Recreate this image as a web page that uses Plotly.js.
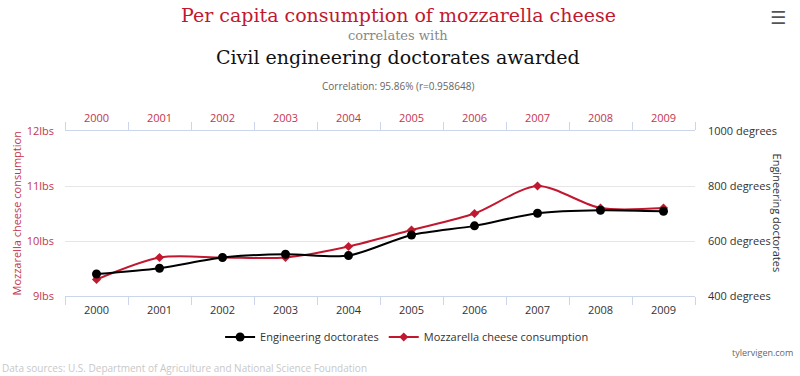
<!DOCTYPE html>
<html>
<head>
<meta charset="utf-8">
<script src="https://cdn.plot.ly/plotly-3.0.1.min.js"></script>
<style>html,body{margin:0;padding:0;background:#fff;}#chart{width:800px;height:376px;}</style>
</head>
<body>
<div id="chart"></div>
<script>
var years = [2000, 2001, 2002, 2003, 2004, 2005, 2006, 2007, 2008, 2009];
var mozzarella = [9.3, 9.7, 9.7, 9.7, 9.9, 10.2, 10.5, 11.0, 10.6, 10.6];
var doctorates = [480, 501, 540, 552, 547, 622, 655, 701, 712, 708];
var boundaries = [1999.5, 2000.5, 2001.5, 2002.5, 2003.5, 2004.5, 2005.5, 2006.5, 2007.5, 2008.5, 2009.5];

var RED = '#c2182f';
var RED_TICK = '#c4364e';
var AXIS = '#ccd6eb';
var FONT = 'Open Sans, DejaVu Sans, sans-serif';
var SERIF = 'DejaVu Serif, Liberation Serif, serif';

var traces = [
  {
    name: 'Engineering doctorates',
    x: years, y: doctorates, xaxis: 'x', yaxis: 'y2',
    mode: 'lines+markers',
    line: {color: '#000000', width: 2, shape: 'spline', smoothing: 0.8},
    marker: {color: '#000000', size: 9, symbol: 'circle'},
    hoverinfo: 'skip'
  },
  {
    name: 'Mozzarella cheese consumption',
    x: years, y: mozzarella, xaxis: 'x', yaxis: 'y',
    mode: 'lines+markers',
    line: {color: RED, width: 2, shape: 'spline', smoothing: 0.8},
    marker: {color: RED, size: 7, symbol: 'diamond'},
    hoverinfo: 'skip'
  },
  {
    // invisible companion so the top (year) axis is drawn
    name: 'top axis', x: years, y: mozzarella, xaxis: 'x2', yaxis: 'y',
    mode: 'markers', marker: {opacity: 0, size: 1}, showlegend: false, hoverinfo: 'skip'
  }
];

function xax(extra) {
  var a = {
    range: [1999.5, 2009.5],
    tickmode: 'array', tickvals: years, ticktext: years.map(String),
    ticks: '', showgrid: false, zeroline: false,
    showline: true, linecolor: AXIS, linewidth: 1,
    tickfont: {family: FONT, size: 11, color: '#333333'},
    ticklabelstandoff: 4,
    minor: {tickmode: 'array', tickvals: boundaries, ticks: 'outside', ticklen: 8, tickcolor: AXIS, tickwidth: 1, showgrid: false},
    fixedrange: true
  };
  for (var k in extra) a[k] = extra[k];
  return a;
}

var layout = {
  width: 800, height: 376,
  margin: {l: 65, r: 105, t: 131, b: 80},
  paper_bgcolor: '#ffffff', plot_bgcolor: '#ffffff',
  showlegend: true,
  legend: {orientation: 'h', x: 0.543, xanchor: 'center', y: -0.2485, yanchor: 'middle',
           font: {family: FONT, size: 11, color: '#333333'}, itemwidth: 30, tracegroupgap: 0},
  xaxis: xax({}),
  xaxis2: xax({overlaying: 'x', side: 'top', anchor: 'y', tickfont: {family: FONT, size: 11, color: RED_TICK}}),
  yaxis: {
    range: [9, 12], dtick: 1, tick0: 9, ticksuffix: 'lbs',
    showgrid: true, gridcolor: '#e6e6e6', zeroline: false, showline: false, ticks: '',
    tickfont: {family: FONT, size: 11, color: RED_TICK}, ticklabelstandoff: 10, fixedrange: true
  },
  yaxis2: {
    range: [400, 1000], dtick: 200, tick0: 400, ticksuffix: ' degrees',
    overlaying: 'y', side: 'right', anchor: 'x',
    showgrid: false, zeroline: false, showline: false, ticks: '',
    tickfont: {family: FONT, size: 11, color: '#333333'}, ticklabelstandoff: 12, fixedrange: true
  },
  annotations: [
    {text: 'Per capita consumption of mozzarella cheese', xref: 'paper', yref: 'paper', x: 0.5286, y: 1.703,
     xanchor: 'center', yanchor: 'middle', showarrow: false, font: {family: SERIF, size: 19, color: RED}},
    {text: 'correlates with', xref: 'paper', yref: 'paper', x: 0.5286, y: 1.5758,
     xanchor: 'center', yanchor: 'middle', showarrow: false, font: {family: SERIF, size: 13, color: '#888888'}},
    {text: 'Civil engineering doctorates awarded', xref: 'paper', yref: 'paper', x: 0.5286, y: 1.4485,
     xanchor: 'center', yanchor: 'middle', showarrow: false, font: {family: SERIF, size: 19, color: '#111111'}},
    {text: 'Correlation: 95.86% (r=0.958648)', xref: 'paper', yref: 'paper', x: 0.5286, y: 1.2727,
     xanchor: 'center', yanchor: 'middle', showarrow: false, font: {family: FONT, size: 10, color: '#666666'}},
    {text: 'Mozzarella cheese consumption', xref: 'paper', yref: 'paper', x: -0.0762, y: 0.5,
     xanchor: 'center', yanchor: 'middle', textangle: -90, showarrow: false, font: {family: FONT, size: 11, color: RED_TICK}},
    {text: 'Engineering doctorates', xref: 'paper', yref: 'paper', x: 1.1317, y: 0.5,
     xanchor: 'center', yanchor: 'middle', textangle: 90, showarrow: false, font: {family: FONT, size: 11, color: '#333333'}},
    {text: 'Data sources: U.S. Department of Agriculture and National Science Foundation', xref: 'paper', yref: 'paper', x: -0.1032, y: -0.436,
     xanchor: 'left', yanchor: 'middle', showarrow: false, font: {family: FONT, size: 10, color: '#c8c8c8'}},
    {text: 'tylervigen.com', xref: 'paper', yref: 'paper', x: 1.1587, y: -0.345,
     xanchor: 'right', yanchor: 'middle', showarrow: false, font: {family: FONT, size: 9, color: '#666666'}},
    {text: '☰', xref: 'paper', yref: 'paper', x: 1.1317, y: 1.685,
     xanchor: 'center', yanchor: 'middle', showarrow: false, font: {family: 'DejaVu Sans', size: 18, color: '#555555'}}
  ]
};

Plotly.newPlot('chart', traces, layout, {displayModeBar: false, staticPlot: true});
</script>
</body>
</html>
